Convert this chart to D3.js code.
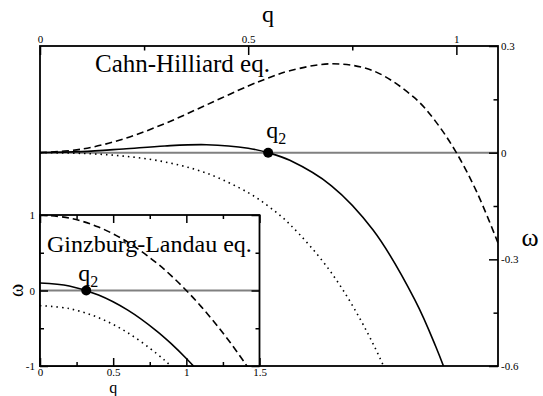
<!DOCTYPE html>
<html>
<head>
<meta charset="utf-8">
<script src="https://cdn.jsdelivr.net/npm/d3@7"></script>
<style>
  body { margin: 0; background: #fff; }
  svg text { font-family: "Liberation Serif", "Times New Roman", Times, Tinos, "Noto Serif", "DejaVu Serif", FreeSerif, serif !important; }
</style>
</head>
<body>
<div id="wrapper"></div>
<script>
// Cahn-Hilliard (main panel)
const chQ = [0, 0.1, 0.2, 0.3, 0.4, 0.5, 0.55, 0.6, 0.7, 0.8, 0.9, 0.95, 1.0, 1.05, 1.1];
const chUpper = [0, 0.0099, 0.0384, 0.0819, 0.1344, 0.1875, 0.2109, 0.2304, 0.2499, 0.2304, 0.1539, 0.088, 0, -0.113, -0.254];
const chMiddle = [0, 0.0029, 0.0104, 0.0189, 0.0224, 0.0125, -0.0008, -0.0216, -0.0931, -0.2176, -0.4131, -0.5438, -0.7, -0.8848, -1.1];
const chLower = [0, -0.0021, -0.0096, -0.0261, -0.0576, -0.1125, -0.1520, -0.2016, -0.3381, -0.5376, -0.8181, -0.9950, -1.2, -1.43, -1.7];
const chQ2 = 0.548;

// Ginzburg-Landau (inset)
const glQ = [0, 0.2, 0.4, 0.6, 0.8, 0.9, 1.0, 1.1, 1.2, 1.3, 1.4, 1.5];
const glUpper = [1, 0.96, 0.84, 0.64, 0.36, 0.19, 0, -0.21, -0.44, -0.69, -0.96, -1.25];
const glMiddle = [0.1, 0.06, -0.06, -0.26, -0.54, -0.71, -0.9, -1.11, -1.34, -1.59, -1.86, -2.15];
const glLower = [-0.2, -0.24, -0.36, -0.56, -0.84, -1.01, -1.2, -1.41, -1.64, -1.89, -2.16, -2.45];
const glQ2 = 0.316;

// ticks
const mainXMajor = [0, 0.5, 1];
const mainXMinor = [0.25, 0.75];
const mainYMajor = [0.3, 0, -0.3, -0.6];
const mainYMinor = [0.15, -0.15, -0.45];
const insetXMajor = [0, 0.5, 1, 1.5];
const insetXMinor = [0.25, 0.75, 1.25];
const insetYMajor = [-1, 0, 1];
const insetYMinor = [-0.5, 0.5];

async function draw() {
  const dimensions = {
    width: 543,
    height: 396,
    main: { left: 40, right: 498, top: 46, bottom: 366 },
    inset: { left: 40, right: 259.5, top: 215, bottom: 366 }
  }
  const m = dimensions.main;
  const ins = dimensions.inset;

  const svg = d3.select("#wrapper")
    .append("svg")
      .attr("width", dimensions.width)
      .attr("height", dimensions.height);

  const xMain = d3.scaleLinear().domain([0, 1.1]).range([m.left, m.right]);
  const yMain = d3.scaleLinear().domain([-0.6, 0.3]).range([m.bottom, m.top]);
  const xIn = d3.scaleLinear().domain([0, 1.5]).range([ins.left, ins.right]);
  const yIn = d3.scaleLinear().domain([-1, 1]).range([ins.bottom, ins.top]);

  const defs = svg.append("defs");
  defs.append("clipPath").attr("id", "clipMain")
    .append("rect")
      .attr("x", m.left).attr("y", m.top)
      .attr("width", m.right - m.left).attr("height", m.bottom - m.top);
  defs.append("clipPath").attr("id", "clipInset")
    .append("rect")
      .attr("x", ins.left).attr("y", ins.top)
      .attr("width", ins.right - ins.left).attr("height", ins.bottom - ins.top);

  const styles = [
    { dash: "7,4" },
    { dash: null },
    { dash: "1.5,4" }
  ];

  // ---- main panel ----
  const mainG = svg.append("g");
  const mainLines = mainG.append("g").attr("clip-path", "url(#clipMain)");

  mainLines.append("line")
    .attr("x1", m.left).attr("x2", m.right)
    .attr("y1", yMain(0)).attr("y2", yMain(0))
    .attr("stroke", "#808080")
    .attr("stroke-width", 2);

  const lineMain = d3.line()
    .x(d => xMain(d[0]))
    .y(d => yMain(d[1]))
    .curve(d3.curveCatmullRom);

  [chUpper, chMiddle, chLower].forEach((vals, i) => {
    mainLines.append("path")
      .attr("d", lineMain(chQ.map((q, j) => [q, vals[j]])))
      .attr("fill", "none")
      .attr("stroke", "black")
      .attr("stroke-width", 1.6)
      .attr("stroke-dasharray", styles[i].dash);
  });

  mainG.append("rect")
    .attr("x", m.left).attr("y", m.top)
    .attr("width", m.right - m.left).attr("height", m.bottom - m.top)
    .attr("fill", "none")
    .attr("stroke", "black")
    .attr("stroke-width", 1.8);

  const styleAxis = (g, size) => {
    g.select(".domain").remove();
    g.selectAll("line").attr("stroke", "black").attr("stroke-width", 1.5);
    g.selectAll("text").attr("font-size", size).attr("fill", "black");
  }

  mainG.append("g")
    .attr("transform", "translate(0," + m.top + ")")
    .call(d3.axisTop(xMain).tickValues(mainXMajor).tickSize(-9).tickPadding(3).tickFormat(d => String(d)))
    .call(g => styleAxis(g, 11));
  mainG.append("g")
    .attr("transform", "translate(0," + m.top + ")")
    .call(d3.axisTop(xMain).tickValues(mainXMinor).tickSize(-4.5).tickFormat(""))
    .call(g => styleAxis(g, 11));
  mainG.append("g")
    .attr("transform", "translate(" + m.right + ",0)")
    .call(d3.axisRight(yMain).tickValues(mainYMajor).tickSize(-9).tickPadding(3).tickFormat(d => String(d)))
    .call(g => styleAxis(g, 11));
  mainG.append("g")
    .attr("transform", "translate(" + m.right + ",0)")
    .call(d3.axisRight(yMain).tickValues(mainYMinor).tickSize(-4.5).tickFormat(""))
    .call(g => styleAxis(g, 11));

  mainG.append("circle")
    .attr("cx", xMain(chQ2)).attr("cy", yMain(0))
    .attr("r", 5).attr("fill", "black");

  const q2Main = mainG.append("text")
    .attr("x", xMain(chQ2) - 2).attr("y", 138)
    .attr("font-size", 24);
  q2Main.append("tspan").text("q");
  q2Main.append("tspan").attr("font-size", 16).attr("dy", 6).text("2");

  mainG.append("text")
    .attr("x", 95).attr("y", 72)
    .attr("font-size", 25)
    .text("Cahn-Hilliard eq.");

  mainG.append("text")
    .attr("x", 268).attr("y", 22)
    .attr("text-anchor", "middle")
    .attr("font-size", 24)
    .text("q");

  mainG.append("text")
    .attr("x", 530).attr("y", 246)
    .attr("text-anchor", "middle")
    .attr("font-size", 26)
    .text("ω");

  // ---- inset ----
  const insetG = svg.append("g");
  insetG.append("rect")
    .attr("x", ins.left).attr("y", ins.top)
    .attr("width", ins.right - ins.left).attr("height", ins.bottom - ins.top)
    .attr("fill", "white");

  const insetLines = insetG.append("g").attr("clip-path", "url(#clipInset)");
  insetLines.append("line")
    .attr("x1", ins.left).attr("x2", ins.right)
    .attr("y1", yIn(0)).attr("y2", yIn(0))
    .attr("stroke", "#808080")
    .attr("stroke-width", 2);

  const lineIn = d3.line()
    .x(d => xIn(d[0]))
    .y(d => yIn(d[1]))
    .curve(d3.curveCatmullRom);

  [glUpper, glMiddle, glLower].forEach((vals, i) => {
    insetLines.append("path")
      .attr("d", lineIn(glQ.map((q, j) => [q, vals[j]])))
      .attr("fill", "none")
      .attr("stroke", "black")
      .attr("stroke-width", 1.6)
      .attr("stroke-dasharray", styles[i].dash);
  });

  insetG.append("rect")
    .attr("x", ins.left).attr("y", ins.top)
    .attr("width", ins.right - ins.left).attr("height", ins.bottom - ins.top)
    .attr("fill", "none")
    .attr("stroke", "black")
    .attr("stroke-width", 1.8);

  insetG.append("g")
    .attr("transform", "translate(0," + ins.bottom + ")")
    .call(d3.axisBottom(xIn).tickValues(insetXMajor).tickSize(-8).tickPadding(2).tickFormat(d => String(d)))
    .call(g => styleAxis(g, 11));
  insetG.append("g")
    .attr("transform", "translate(0," + ins.bottom + ")")
    .call(d3.axisBottom(xIn).tickValues(insetXMinor).tickSize(-4).tickFormat(""))
    .call(g => styleAxis(g, 11));
  insetG.append("g")
    .attr("transform", "translate(0," + ins.top + ")")
    .call(d3.axisTop(xIn).tickValues(insetXMajor).tickSize(-8).tickFormat(""))
    .call(g => styleAxis(g, 11));
  insetG.append("g")
    .attr("transform", "translate(0," + ins.top + ")")
    .call(d3.axisTop(xIn).tickValues(insetXMinor).tickSize(-4).tickFormat(""))
    .call(g => styleAxis(g, 11));
  insetG.append("g")
    .attr("transform", "translate(" + ins.left + ",0)")
    .call(d3.axisLeft(yIn).tickValues(insetYMajor).tickSize(-8).tickPadding(5).tickFormat(d => String(d)))
    .call(g => styleAxis(g, 11));
  insetG.append("g")
    .attr("transform", "translate(" + ins.left + ",0)")
    .call(d3.axisLeft(yIn).tickValues(insetYMinor).tickSize(-4).tickFormat(""))
    .call(g => styleAxis(g, 11));
  insetG.append("g")
    .attr("transform", "translate(" + ins.right + ",0)")
    .call(d3.axisRight(yIn).tickValues(insetYMajor).tickSize(-8).tickFormat(""))
    .call(g => styleAxis(g, 11));
  insetG.append("g")
    .attr("transform", "translate(" + ins.right + ",0)")
    .call(d3.axisRight(yIn).tickValues(insetYMinor).tickSize(-4).tickFormat(""))
    .call(g => styleAxis(g, 11));

  insetG.append("circle")
    .attr("cx", xIn(glQ2)).attr("cy", yIn(0))
    .attr("r", 5).attr("fill", "black");

  const q2In = insetG.append("text")
    .attr("x", xIn(glQ2) - 8).attr("y", 281)
    .attr("font-size", 24);
  q2In.append("tspan").text("q");
  q2In.append("tspan").attr("font-size", 16).attr("dy", 6).text("2");

  insetG.append("text")
    .attr("x", 47).attr("y", 252)
    .attr("font-size", 24)
    .text("Ginzburg-Landau eq.");

  insetG.append("text")
    .attr("x", xIn(0.5)).attr("y", 392.5)
    .attr("text-anchor", "middle")
    .attr("font-size", 16)
    .text("q");

  insetG.append("text")
    .attr("transform", "translate(23," + yIn(0) + ") rotate(-90)")
    .attr("text-anchor", "middle")
    .attr("font-size", 20)
    .text("ω");
}
draw();
</script>
</body>
</html>
